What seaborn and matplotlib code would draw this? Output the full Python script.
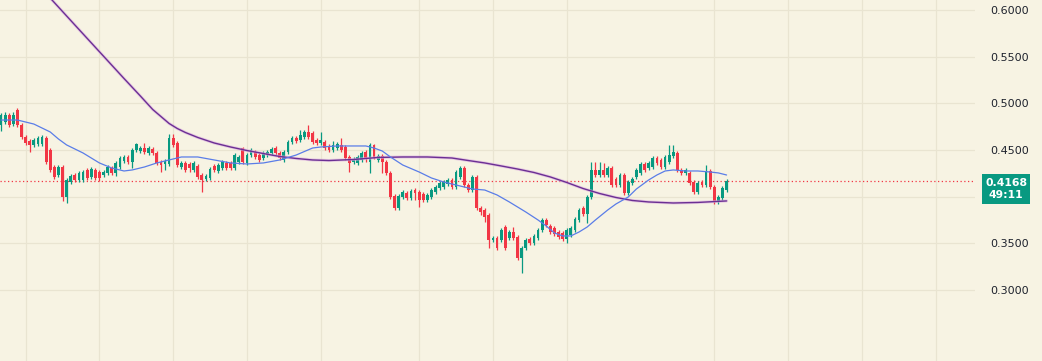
import numpy as np
import pandas as pd
import matplotlib
matplotlib.use("Agg")
import matplotlib.pyplot as plt
import matplotlib.transforms as mtransforms
from matplotlib.patches import Rectangle
import seaborn as sns

# OHLC, one entry per candle, oldest first
opens = [
    0.4768, 0.4800, 0.4875, 0.4778, 0.4929, 0.4768, 0.4639, 0.4596, 0.4554, 0.4564,
    0.4564, 0.4628, 0.4500, 0.4318, 0.4232, 0.4318, 0.3996, 0.4157, 0.4232, 0.4179,
    0.4179, 0.4286, 0.4211, 0.4286, 0.4264, 0.4232, 0.4254, 0.4307, 0.4254, 0.4318,
    0.4382, 0.4425, 0.4371, 0.4500, 0.4489, 0.4521, 0.4468, 0.4511, 0.4468, 0.4371,
    0.4350, 0.4350, 0.4628, 0.4575, 0.4318, 0.4361, 0.4350, 0.4286, 0.4329, 0.4232,
    0.4189, 0.4200, 0.4329, 0.4275, 0.4307, 0.4361, 0.4361, 0.4307, 0.4371, 0.4521,
    0.4361, 0.4446, 0.4479, 0.4446, 0.4414, 0.4446, 0.4468, 0.4521, 0.4468, 0.4393,
    0.4479, 0.4586, 0.4628, 0.4607, 0.4639, 0.4693, 0.4682, 0.4607, 0.4575, 0.4586,
    0.4543, 0.4500, 0.4521, 0.4554, 0.4532, 0.4425, 0.4371, 0.4361, 0.4393, 0.4479,
    0.4371, 0.4554, 0.4393, 0.4436, 0.4371, 0.4254, 0.4007, 0.3879, 0.3996, 0.4039,
    0.3986, 0.4071, 0.4050, 0.4029, 0.3964, 0.3996, 0.4050, 0.4093, 0.4104, 0.4136,
    0.4179, 0.4104, 0.4211, 0.4307, 0.4125, 0.4071, 0.4211, 0.3879, 0.3857, 0.3804,
    0.3536, 0.3557, 0.3536, 0.3675, 0.3557, 0.3621, 0.3568, 0.3343, 0.3450, 0.3546,
    0.3504, 0.3557, 0.3643, 0.3750, 0.3686, 0.3664, 0.3621, 0.3611, 0.3546, 0.3589,
    0.3643, 0.3750, 0.3879, 0.3814, 0.3996, 0.4286, 0.4232, 0.4286, 0.4232, 0.4307,
    0.4189, 0.4125, 0.4232, 0.4039, 0.4146, 0.4211, 0.4254, 0.4350, 0.4307, 0.4318,
    0.4414, 0.4393, 0.4318, 0.4371, 0.4436, 0.4468, 0.4286, 0.4254, 0.4254, 0.4157,
    0.4050, 0.4157, 0.4125, 0.4275, 0.4104, 0.3943, 0.3986, 0.4071,
]
highs = [
    0.4896, 0.4907, 0.4896, 0.4907, 0.4950, 0.4789, 0.4661, 0.4618, 0.4628, 0.4650,
    0.4661, 0.4650, 0.4521, 0.4339, 0.4339, 0.4339, 0.4200, 0.4243, 0.4254, 0.4275,
    0.4286, 0.4307, 0.4318, 0.4307, 0.4286, 0.4286, 0.4339, 0.4329, 0.4382, 0.4436,
    0.4446, 0.4446, 0.4521, 0.4575, 0.4543, 0.4575, 0.4543, 0.4532, 0.4489, 0.4393,
    0.4404, 0.4671, 0.4671, 0.4596, 0.4382, 0.4382, 0.4371, 0.4382, 0.4350, 0.4254,
    0.4243, 0.4318, 0.4350, 0.4361, 0.4393, 0.4382, 0.4382, 0.4468, 0.4446, 0.4532,
    0.4468, 0.4521, 0.4500, 0.4468, 0.4489, 0.4500, 0.4532, 0.4543, 0.4489, 0.4500,
    0.4607, 0.4650, 0.4650, 0.4714, 0.4714, 0.4768, 0.4703, 0.4628, 0.4693, 0.4607,
    0.4564, 0.4596, 0.4586, 0.4628, 0.4554, 0.4446, 0.4425, 0.4446, 0.4489, 0.4500,
    0.4575, 0.4564, 0.4457, 0.4457, 0.4393, 0.4275, 0.4029, 0.4029, 0.4071, 0.4061,
    0.4082, 0.4093, 0.4071, 0.4050, 0.4039, 0.4093, 0.4125, 0.4168, 0.4179, 0.4200,
    0.4200, 0.4286, 0.4329, 0.4329, 0.4146, 0.4232, 0.4232, 0.3900, 0.3879, 0.3825,
    0.3579, 0.3579, 0.3664, 0.3696, 0.3643, 0.3675, 0.3589, 0.3471, 0.3557, 0.3568,
    0.3600, 0.3664, 0.3771, 0.3771, 0.3707, 0.3686, 0.3643, 0.3632, 0.3664, 0.3686,
    0.3782, 0.3879, 0.3900, 0.4018, 0.4371, 0.4371, 0.4371, 0.4361, 0.4329, 0.4329,
    0.4211, 0.4254, 0.4254, 0.4179, 0.4211, 0.4307, 0.4371, 0.4371, 0.4382, 0.4436,
    0.4436, 0.4414, 0.4446, 0.4554, 0.4554, 0.4489, 0.4307, 0.4307, 0.4275, 0.4179,
    0.4168, 0.4179, 0.4339, 0.4296, 0.4125, 0.4018, 0.4114, 0.4189,
]
lows = [
    0.4703, 0.4778, 0.4746, 0.4757, 0.4746, 0.4618, 0.4554, 0.4479, 0.4532, 0.4543,
    0.4543, 0.4350, 0.4264, 0.4189, 0.4211, 0.3954, 0.3932, 0.4136, 0.4157, 0.4157,
    0.4157, 0.4179, 0.4189, 0.4179, 0.4168, 0.4211, 0.4232, 0.4232, 0.4221, 0.4296,
    0.4361, 0.4350, 0.4307, 0.4479, 0.4468, 0.4457, 0.4446, 0.4446, 0.4339, 0.4264,
    0.4286, 0.4329, 0.4532, 0.4318, 0.4296, 0.4264, 0.4264, 0.4264, 0.4189, 0.4050,
    0.4168, 0.4179, 0.4264, 0.4254, 0.4286, 0.4286, 0.4286, 0.4286, 0.4350, 0.4350,
    0.4339, 0.4425, 0.4404, 0.4371, 0.4393, 0.4425, 0.4446, 0.4446, 0.4393, 0.4371,
    0.4457, 0.4564, 0.4575, 0.4586, 0.4618, 0.4618, 0.4564, 0.4554, 0.4554, 0.4500,
    0.4479, 0.4479, 0.4500, 0.4479, 0.4393, 0.4264, 0.4350, 0.4339, 0.4371, 0.4371,
    0.4254, 0.4404, 0.4371, 0.4254, 0.4232, 0.3975, 0.3857, 0.3857, 0.3975, 0.3964,
    0.3964, 0.3964, 0.3889, 0.3943, 0.3943, 0.3975, 0.4029, 0.4071, 0.4082, 0.4114,
    0.4082, 0.4082, 0.4189, 0.4104, 0.4050, 0.4050, 0.3857, 0.3804, 0.3729, 0.3450,
    0.3514, 0.3429, 0.3514, 0.3429, 0.3536, 0.3536, 0.3321, 0.3182, 0.3429, 0.3482,
    0.3482, 0.3536, 0.3621, 0.3675, 0.3600, 0.3579, 0.3546, 0.3525, 0.3504, 0.3568,
    0.3621, 0.3729, 0.3793, 0.3718, 0.3975, 0.4211, 0.4211, 0.4211, 0.4211, 0.4104,
    0.4104, 0.4104, 0.4018, 0.4018, 0.4125, 0.4189, 0.4232, 0.4264, 0.4286, 0.4296,
    0.4339, 0.4296, 0.4296, 0.4350, 0.4414, 0.4264, 0.4232, 0.4232, 0.4125, 0.4029,
    0.4029, 0.4104, 0.4104, 0.4082, 0.3921, 0.3921, 0.3964, 0.4050,
]
closes = [
    0.4875, 0.4875, 0.4768, 0.4875, 0.4768, 0.4639, 0.4575, 0.4554, 0.4607, 0.4628,
    0.4639, 0.4371, 0.4286, 0.4211, 0.4318, 0.3996, 0.4179, 0.4221, 0.4179, 0.4254,
    0.4264, 0.4200, 0.4296, 0.4200, 0.4200, 0.4264, 0.4318, 0.4254, 0.4361, 0.4414,
    0.4425, 0.4371, 0.4500, 0.4564, 0.4521, 0.4479, 0.4521, 0.4468, 0.4361, 0.4339,
    0.4382, 0.4628, 0.4554, 0.4339, 0.4361, 0.4286, 0.4307, 0.4361, 0.4211, 0.4179,
    0.4221, 0.4296, 0.4286, 0.4339, 0.4371, 0.4307, 0.4307, 0.4446, 0.4425, 0.4371,
    0.4446, 0.4500, 0.4425, 0.4393, 0.4468, 0.4479, 0.4511, 0.4468, 0.4414, 0.4479,
    0.4586, 0.4628, 0.4596, 0.4661, 0.4693, 0.4639, 0.4586, 0.4575, 0.4607, 0.4521,
    0.4500, 0.4554, 0.4564, 0.4500, 0.4414, 0.4361, 0.4404, 0.4425, 0.4468, 0.4404,
    0.4554, 0.4425, 0.4436, 0.4371, 0.4254, 0.3996, 0.3879, 0.4007, 0.4050, 0.3986,
    0.4061, 0.4039, 0.3964, 0.3964, 0.4018, 0.4071, 0.4104, 0.4146, 0.4157, 0.4179,
    0.4104, 0.4264, 0.4307, 0.4125, 0.4071, 0.4211, 0.3879, 0.3836, 0.3782, 0.3536,
    0.3557, 0.3450, 0.3643, 0.3450, 0.3621, 0.3557, 0.3343, 0.3450, 0.3536, 0.3504,
    0.3579, 0.3643, 0.3750, 0.3696, 0.3621, 0.3600, 0.3568, 0.3546, 0.3643, 0.3664,
    0.3761, 0.3857, 0.3814, 0.3996, 0.4286, 0.4232, 0.4286, 0.4232, 0.4307, 0.4125,
    0.4125, 0.4232, 0.4039, 0.4157, 0.4189, 0.4286, 0.4350, 0.4286, 0.4361, 0.4414,
    0.4361, 0.4318, 0.4425, 0.4446, 0.4479, 0.4286, 0.4254, 0.4286, 0.4146, 0.4050,
    0.4146, 0.4125, 0.4264, 0.4104, 0.3943, 0.3996, 0.4093, 0.4168,
]

fast_ma_idx = [0, 4, 8, 12, 14, 16, 20, 24, 27, 30, 32, 35, 38, 41, 44, 48, 52, 56, 60,
               64, 68, 72, 76, 78, 82, 86, 89, 91, 93, 95, 98, 102, 105, 108, 111, 115,
               118, 121, 124, 128, 131, 133, 135, 137, 139, 141, 143, 145, 148, 150, 153,
               155, 158, 160, 162, 164, 167, 170, 173, 175, 177]
fast_ma = [0.4821, 0.4821, 0.4778, 0.4693, 0.4618, 0.4554, 0.4468, 0.4361, 0.4307, 0.4275,
           0.4286, 0.4318, 0.4361, 0.4393, 0.4425, 0.4425, 0.4393, 0.4361, 0.4350, 0.4361,
           0.4393, 0.4446, 0.4521, 0.4532, 0.4543, 0.4543, 0.4543, 0.4521, 0.4489, 0.4425,
           0.4339, 0.4264, 0.4200, 0.4157, 0.4125, 0.4082, 0.4071, 0.4018, 0.3943, 0.3836,
           0.3750, 0.3686, 0.3611, 0.3579, 0.3579, 0.3621, 0.3675, 0.3750, 0.3857, 0.3921,
           0.3996, 0.4082, 0.4179, 0.4232, 0.4275, 0.4286, 0.4275, 0.4275, 0.4264, 0.4254,
           0.4232]
slow_ma_idx = [0, 6, 12, 18, 24, 30, 34, 37, 39, 41, 43, 45, 48, 52, 56, 60, 64, 68, 72,
               76, 80, 86, 92, 98, 104, 110, 114, 118, 122, 126, 130, 134, 138, 142, 146,
               150, 154, 158, 164, 170, 177]
slow_ma = [0.6703, 0.6416, 0.6128, 0.5840, 0.5553, 0.5266, 0.5078, 0.4934, 0.4859, 0.4784,
           0.4730, 0.4687, 0.4634, 0.4575, 0.4532, 0.4494, 0.4462, 0.4430, 0.4409, 0.4393,
           0.4387, 0.4398, 0.4420, 0.4425, 0.4425, 0.4414, 0.4387, 0.4361, 0.4329, 0.4296,
           0.4259, 0.4211, 0.4152, 0.4087, 0.4034, 0.3991, 0.3959, 0.3943, 0.3932, 0.3938,
           0.3954]

price_ticks = [0.30, 0.35, 0.40, 0.45, 0.50, 0.55, 0.60]
last_price = 0.4168
countdown = "49:11"

# colours
BG = "#f7f3e3"
GRID = "#e9e4d1"
UP = "#089981"
DOWN = "#f23645"
FAST = "#5a7de8"
SLOW = "#6b2f93"

# bar positions of the vertical grid lines (time marks)
grid_bars = [6, 24, 42, 60, 78, 102, 120, 138, 174, 192, 210, 228]

df = pd.DataFrame({"open": opens, "high": highs, "low": lows, "close": closes})
df["bar"] = np.arange(len(df))
colors = np.where(df["close"] >= df["open"], UP, DOWN)

sns.set_theme(style="whitegrid")
plt.rcParams["font.family"] = ["DejaVu Sans"]

fig = plt.figure(figsize=(10.42, 3.61), dpi=100)
fig.patch.set_facecolor(BG)
ax = fig.add_axes([0, 0, 975 / 1042, 1])
ax.set_facecolor(BG)

# wicks and bodies
ax.vlines(df["bar"], df["low"], df["high"], colors=colors, linewidth=0.9, zorder=3)
body_bottom = df[["open", "close"]].min(axis=1)
body_height = (df["close"] - df["open"]).abs().clip(lower=0.0007)
ax.bar(df["bar"], body_height, bottom=body_bottom, width=0.68, color=colors,
       linewidth=0, zorder=4)

# moving averages
sns.lineplot(x=slow_ma_idx, y=slow_ma, ax=ax, color="#dcaee0", linewidth=2.2,
             alpha=0.6, zorder=5)
sns.lineplot(x=slow_ma_idx, y=slow_ma, ax=ax, color=SLOW, linewidth=1.0, zorder=6)
sns.lineplot(x=fast_ma_idx, y=fast_ma, ax=ax, color=FAST, linewidth=0.9, zorder=6)

# last price line
ax.axhline(last_price, color=DOWN, linestyle=(0, (1, 2)), linewidth=0.9, zorder=2)

ax.set_xlim(-0.25, 237.6)
ax.set_ylim(0.2239, 0.6107)
ax.set_xticks(grid_bars)
ax.set_xticklabels([])
ax.tick_params(axis="x", length=0)
ax.yaxis.tick_right()
ax.set_yticks(price_ticks)
# the 0.4000 label sits under the last price badge, so it is left blank
ax.set_yticklabels(["" if abs(t - 0.40) < 1e-9 else f"{t:.4f}" for t in price_ticks])
ax.tick_params(axis="y", length=0, pad=11, labelsize=8, colors="#1e222d")
ax.grid(True, color=GRID, linewidth=0.9)
ax.set_xlabel("")
ax.set_ylabel("")
for s in ax.spines.values():
    s.set_visible(False)

# last price badge on the price scale
trans = mtransforms.blended_transform_factory(fig.transFigure, ax.transData)
badge = Rectangle((982 / 1042, last_price - 0.0247), 48 / 1042, 0.0322,
                  transform=trans, facecolor=UP, edgecolor="none", clip_on=False, zorder=10)
fig.add_artist(badge)
fig.text(1006 / 1042, last_price - 0.0086, f"{last_price:.4f}\n{countdown}", transform=trans,
         ha="center", va="center", ma="center", linespacing=1.15, color="white",
         fontsize=7.8, fontweight="bold", zorder=11)

fig.savefig("out.png", dpi=100, facecolor=BG)
